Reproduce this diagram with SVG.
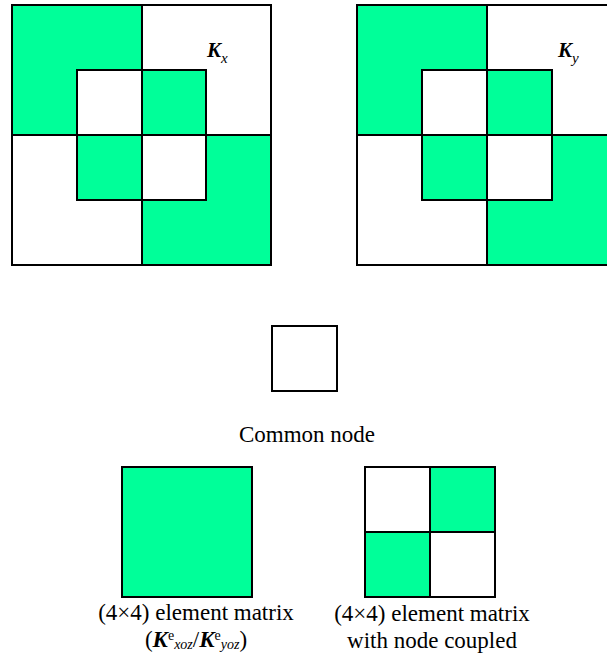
<svg xmlns="http://www.w3.org/2000/svg" width="607" height="665" viewBox="0 0 607 665">
  <style>
    .g { fill: #00ff99; }
    .w { fill: #ffffff; }
    .ln { fill: none; stroke: #000000; stroke-width: 2; }
    .t { font-family: "Liberation Serif", "Times New Roman", serif; font-size: 23px; fill: #000000; }
    .bi { font-weight: bold; font-style: italic; }
    .it { font-style: italic; }
    .sm { font-size: 14px; }
  </style>
  <rect x="0" y="0" width="607" height="665" fill="#ffffff"/>

  <!-- global stiffness matrix Kx -->
  <g id="matrix-kx">
    <rect class="w" x="12" y="5" width="259" height="260"/>
    <rect class="g" x="12" y="5" width="130" height="130"/>
    <rect class="g" x="142" y="135" width="129" height="130"/>
    <rect class="w" x="77" y="70" width="65" height="65"/>
    <rect class="g" x="142" y="70" width="64" height="65"/>
    <rect class="g" x="77" y="135" width="65" height="65"/>
    <rect class="w" x="142" y="135" width="64" height="65"/>
    <rect class="ln" x="12" y="5" width="259" height="260"/>
    <rect class="ln" x="77" y="70" width="129" height="130"/>
    <line class="ln" x1="142" y1="5" x2="142" y2="265"/>
    <line class="ln" x1="12" y1="135" x2="271" y2="135"/>
    <text class="t" x="207" y="57"><tspan class="bi" font-size="21px">K</tspan><tspan class="it" font-size="15px" dy="6">x</tspan></text>
  </g>

  <!-- global stiffness matrix Ky -->
  <g id="matrix-ky">
    <rect class="w" x="357" y="5" width="260" height="260"/>
    <rect class="g" x="357" y="5" width="130" height="130"/>
    <rect class="g" x="487" y="135" width="130" height="130"/>
    <rect class="w" x="422" y="70" width="65" height="65"/>
    <rect class="g" x="487" y="70" width="65" height="65"/>
    <rect class="g" x="422" y="135" width="65" height="65"/>
    <rect class="w" x="487" y="135" width="65" height="65"/>
    <rect class="ln" x="357" y="5" width="260" height="260"/>
    <rect class="ln" x="422" y="70" width="130" height="130"/>
    <line class="ln" x1="487" y1="5" x2="487" y2="265"/>
    <line class="ln" x1="357" y1="135" x2="617" y2="135"/>
    <text class="t" x="558" y="57"><tspan class="bi" font-size="21px">K</tspan><tspan class="it" font-size="15px" dy="6">y</tspan></text>
  </g>

  <!-- legend: common node -->
  <g id="legend-common-node">
    <rect class="ln" x="272" y="326" width="65" height="65" style="fill:#ffffff"/>
    <text class="t" x="307" y="442" text-anchor="middle">Common node</text>
  </g>

  <!-- legend: element matrix -->
  <g id="legend-element-matrix">
    <rect class="g" x="122" y="467" width="130" height="130"/>
    <rect class="ln" x="122" y="467" width="130" height="130"/>
    <text class="t" x="196" y="620" text-anchor="middle">(4×4) element matrix</text>
    <text class="t" x="196" y="647" text-anchor="middle">(<tspan class="bi">K</tspan><tspan class="sm" dy="-7">e</tspan><tspan class="it sm" dy="9">xoz</tspan><tspan dy="-2">/</tspan><tspan class="bi">K</tspan><tspan class="sm" dy="-7">e</tspan><tspan class="it sm" dy="9">yoz</tspan><tspan dy="-2">)</tspan></text>
  </g>

  <!-- legend: element matrix with node coupled -->
  <g id="legend-coupled-matrix">
    <rect class="w" x="365" y="467" width="130" height="130"/>
    <rect class="g" x="430" y="467" width="65" height="65"/>
    <rect class="g" x="365" y="532" width="65" height="65"/>
    <rect class="ln" x="365" y="467" width="130" height="130"/>
    <line class="ln" x1="430" y1="467" x2="430" y2="597"/>
    <line class="ln" x1="365" y1="532" x2="495" y2="532"/>
    <text class="t" x="432" y="621" text-anchor="middle">(4×4) element matrix</text>
    <text class="t" x="432" y="648" text-anchor="middle">with node coupled</text>
  </g>
</svg>
